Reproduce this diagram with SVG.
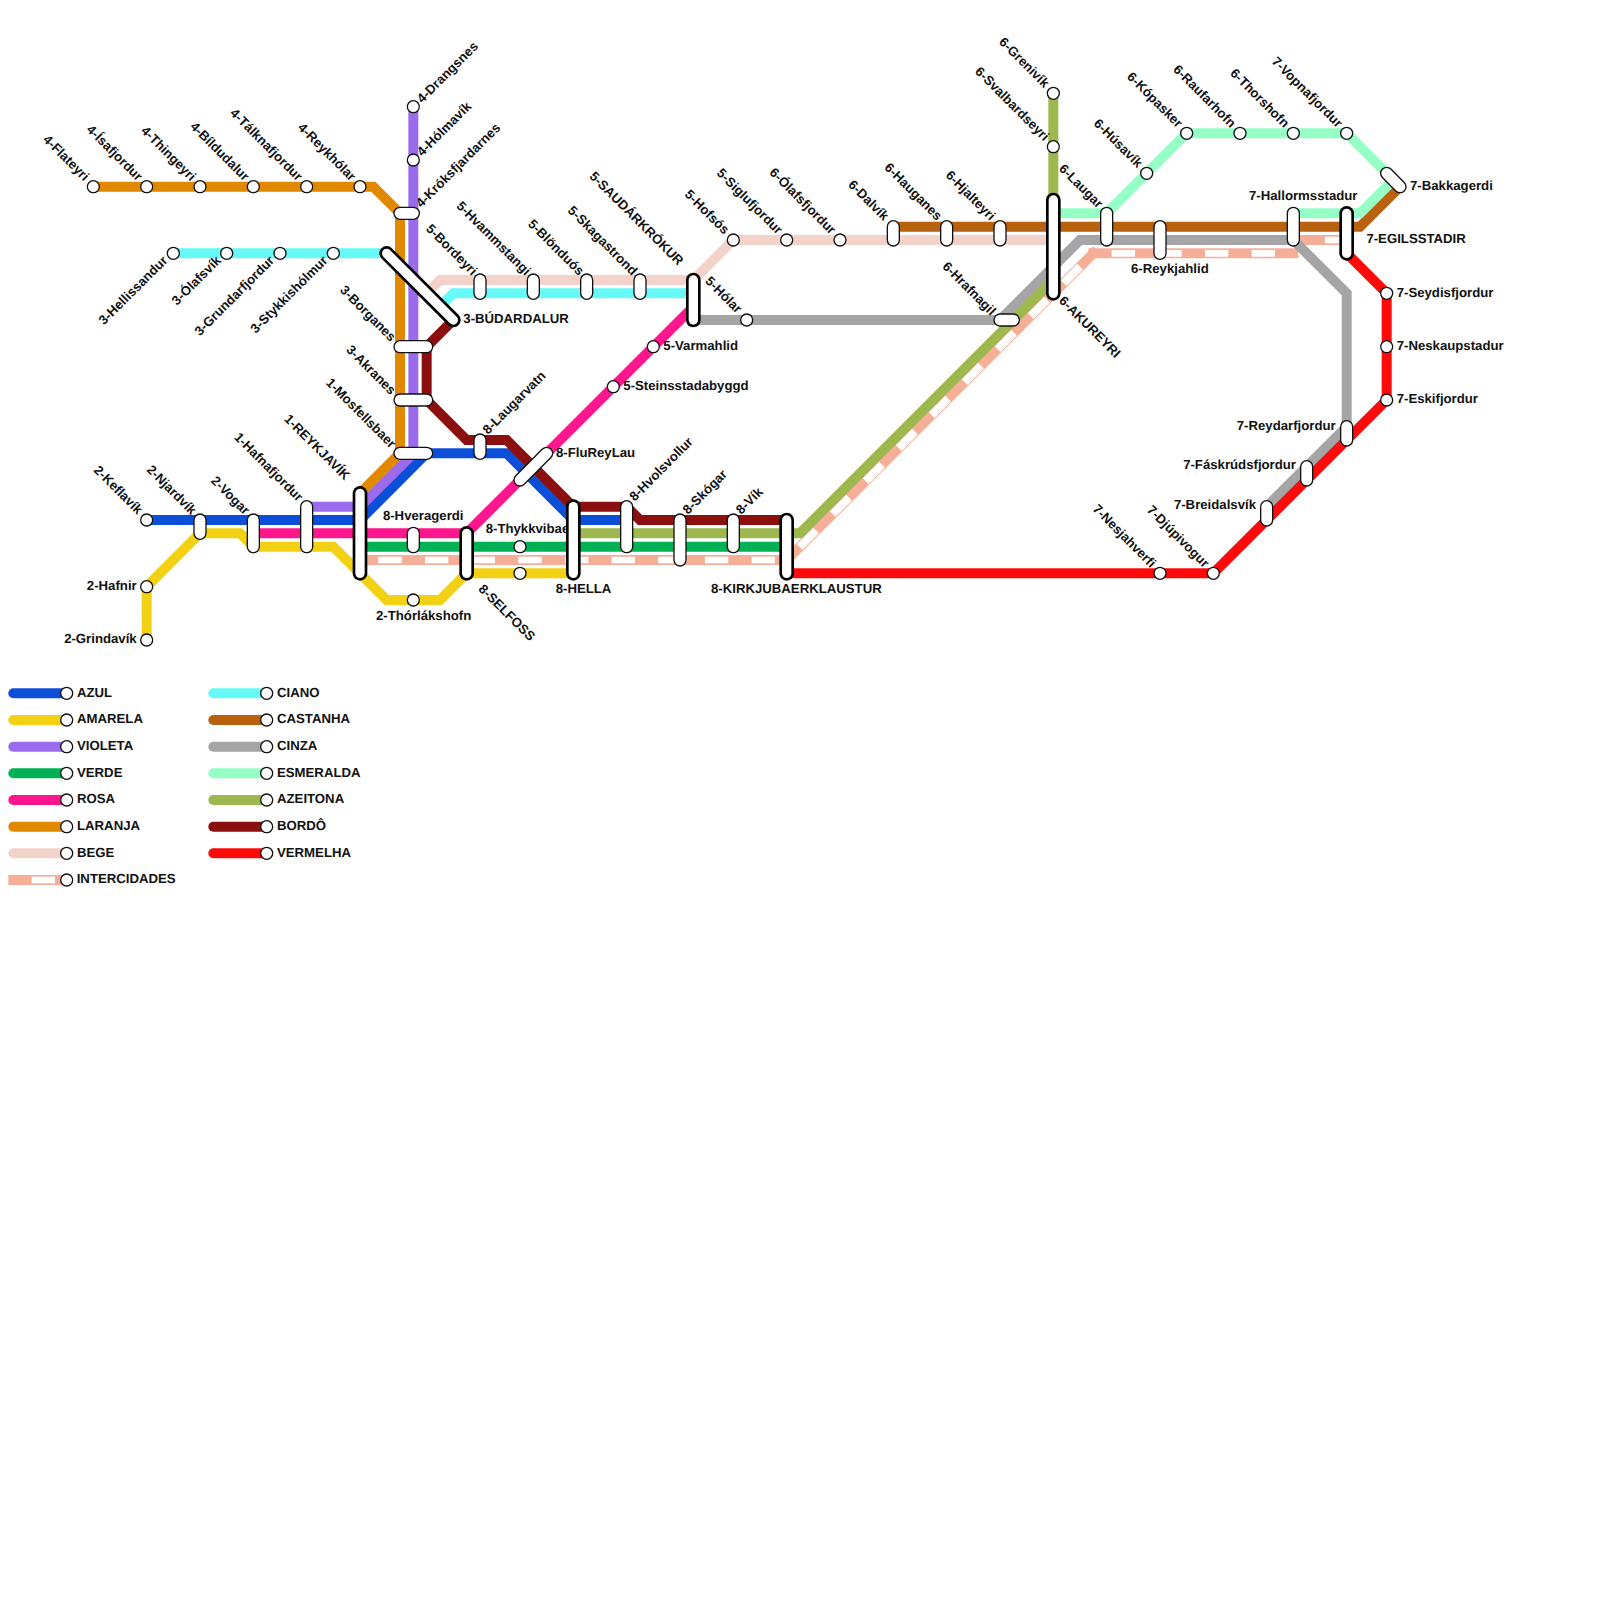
<svg xmlns="http://www.w3.org/2000/svg" width="1600" height="1600" viewBox="0 0 1600 1600">
<style>
text{font-family:"Liberation Sans",Arial,sans-serif;font-weight:700;font-size:13.2px;fill:#111;text-rendering:geometricPrecision}
.e{text-anchor:end}
.l{fill:none;stroke-width:10}
.po{stroke:#111;stroke-width:13.33;stroke-linecap:round}
.pi{stroke:#fff;stroke-width:10.67;stroke-linecap:round}
.to{stroke:#000;stroke-width:14.67;stroke-linecap:round}
.ti{stroke:#fff;stroke-width:9.33;stroke-linecap:round}
circle{fill:#fff;stroke:#111;stroke-width:1.33}
.ip{fill:none;stroke:#f5af98;stroke-width:10;stroke-linecap:square}
.iw{fill:none;stroke:#fff;stroke-width:6.67;stroke-dasharray:23.33 23.33;stroke-dashoffset:-18.33}
.lg{fill:none;stroke-width:10;stroke-linecap:round}
</style>
<rect width="1600" height="1600" fill="#fff"/>
<g id="connectors">
<path id="azul" class="l" stroke="#0b4fd9" d="M146.67 520H360L426.67 453.33H506.67L573.33 520H626.67"/>
<path id="amarela" class="l" stroke="#f2d013" d="M146.67 640V586.67L200 533.33H240L253.33 546.67H333.33L386.67 600H440L466.67 573.33H573.33"/>
<path id="violeta" class="l" stroke="#9b6bee" d="M413.33 106.67V453.33L360 506.67H306.67"/>
<path id="verde" class="l" stroke="#00b254" d="M360 546.67H786.67"/>
<path id="rosa" class="l" stroke="#fd168d" d="M253.33 533.33H466.67L693.33 306.67"/>
<path id="laranja" class="l" stroke="#e08800" d="M93.33 186.67H373.33L400 213.33V453.33L360 493.33"/>
<path id="bege" class="l" stroke="#f3d2ca" d="M426.67 293.33L440 280H693.33L733.33 240H1053.33"/>
<g id="intercidades">
<path class="ip" d="M360 560H786.67"/><path class="iw" d="M360 560H786.67"/>
<path class="ip" d="M786.67 560L1093.33 253.33"/><path class="iw" style="stroke-width:8" d="M786.67 560L1093.33 253.33"/>
<path class="ip" d="M1093.33 253.33H1293.33"/><path class="iw" d="M1093.33 253.33H1293.33"/>
<path class="ip" d="M1293.33 240H1346.67"/><path class="iw" d="M1306.67 240H1346.67"/>
</g>
<path id="ciano" class="l" stroke="#68f9f9" d="M173.33 253.33H386.67M440 306.67L453.33 293.33H693.33"/>
<path id="castanha" class="l" stroke="#b8620f" d="M893.33 226.67H1360L1400 186.67"/>
<path id="cinza" class="l" stroke="#a5a5a5" d="M693.33 320H1000L1080 240H1293.33L1346.67 293.33V426.67L1266.67 506.67"/>
<path id="esmeralda" class="l" stroke="#95ffc6" d="M1053.33 213.33H1106.67L1186.67 133.33H1346.67L1393.33 180M1293.33 213.33H1360L1393.33 180"/>
<path id="azeitona" class="l" stroke="#9db84e" d="M1053.33 93.33V280M573.33 533.33H800L1053.33 280"/>
<path id="bordo" class="l" stroke="#8b0f0f" d="M453.33 320L426.67 346.67V400L466.67 440H506.67L573.33 506.67H626.67L640 520H786.67"/>
<path id="vermelha" class="l" stroke="#ff0a0a" d="M786.67 573.33H1213.33L1386.67 400V293.33L1346.67 253.33"/>
</g>
<g id="n-thykkvibae"><text x="485.7" y="533">8-Thykkvibae</text><circle cx="520" cy="546.67" r="6"/></g>
<g id="n-flateyri"><circle cx="93.33" cy="186.67" r="6"/><text class="e" transform="translate(83.83 181.67) rotate(45)">4-Flateyri</text></g>
<g id="n-isafjordur"><circle cx="146.67" cy="186.67" r="6"/><text class="e" transform="translate(137.17 181.67) rotate(45)">4-Ísafjordur</text></g>
<g id="n-thingeyri"><circle cx="200" cy="186.67" r="6"/><text class="e" transform="translate(190.5 181.67) rotate(45)">4-Thingeyri</text></g>
<g id="n-bildudalur"><circle cx="253.33" cy="186.67" r="6"/><text class="e" transform="translate(243.83 181.67) rotate(45)">4-Bíldudalur</text></g>
<g id="n-talknafjordur"><circle cx="306.67" cy="186.67" r="6"/><text class="e" transform="translate(297.17 181.67) rotate(45)">4-Tálknafjordur</text></g>
<g id="n-reykholar"><circle cx="360" cy="186.67" r="6"/><text class="e" transform="translate(350.5 181.67) rotate(45)">4-Reykhólar</text></g>
<g id="n-drangsnes"><circle cx="413.33" cy="106.67" r="6"/><text transform="translate(422.33 103.67) rotate(-45)">4-Drangsnes</text></g>
<g id="n-holmavik"><circle cx="413.33" cy="160" r="6"/><text transform="translate(422.33 157) rotate(-45)">4-Hólmavík</text></g>
<g id="n-kroksfjardarnes"><line class="po" x1="400" y1="213.33" x2="413.33" y2="213.33"/><line class="pi" x1="400" y1="213.33" x2="413.33" y2="213.33"/><text transform="translate(421.33 208.33) rotate(-45)">4-Króksfjardarnes</text></g>
<g id="n-hellissandur"><circle cx="173.33" cy="253.33" r="6"/><text class="e" transform="translate(168.33 261.33) rotate(-45)">3-Hellissandur</text></g>
<g id="n-olafsvik"><circle cx="226.67" cy="253.33" r="6"/><text class="e" transform="translate(221.67 261.33) rotate(-45)">3-Ólafsvík</text></g>
<g id="n-grundarfjordur"><circle cx="280" cy="253.33" r="6"/><text class="e" transform="translate(275 261.33) rotate(-45)">3-Grundarfjordur</text></g>
<g id="n-stykkisholmur"><circle cx="333.33" cy="253.33" r="6"/><text class="e" transform="translate(328.33 261.33) rotate(-45)">3-Stykkishólmur</text></g>
<g id="n-budardalur"><line class="to" x1="386.67" y1="253.33" x2="453.33" y2="320"/><line class="ti" x1="386.67" y1="253.33" x2="453.33" y2="320"/><text x="463.3" y="323">3-BÚDARDALUR</text></g>
<g id="n-borganes"><line class="po" x1="400" y1="346.67" x2="426.67" y2="346.67"/><line class="pi" x1="400" y1="346.67" x2="426.67" y2="346.67"/><text class="e" transform="translate(390.5 342.17) rotate(45)">3-Borganes</text></g>
<g id="n-akranes"><line class="po" x1="400" y1="400" x2="426.67" y2="400"/><line class="pi" x1="400" y1="400" x2="426.67" y2="400"/><text class="e" transform="translate(390.5 395.5) rotate(45)">3-Akranes</text></g>
<g id="n-mosfellsbaer"><line class="po" x1="400" y1="453.33" x2="426.67" y2="453.33"/><line class="pi" x1="400" y1="453.33" x2="426.67" y2="453.33"/><text class="e" transform="translate(390.5 448.83) rotate(45)">1-Mosfellsbaer</text></g>
<g id="n-keflavik"><circle cx="146.67" cy="520" r="6"/><text class="e" transform="translate(137.17 515) rotate(45)">2-Keflavík</text></g>
<g id="n-njardvik"><line class="po" x1="200" y1="520" x2="200" y2="533.33"/><line class="pi" x1="200" y1="520" x2="200" y2="533.33"/><text class="e" transform="translate(191 515.5) rotate(45)">2-Njardvík</text></g>
<g id="n-vogar"><line class="po" x1="253.33" y1="520" x2="253.33" y2="546.67"/><line class="pi" x1="253.33" y1="520" x2="253.33" y2="546.67"/><text class="e" transform="translate(244.33 515.5) rotate(45)">2-Vogar</text></g>
<g id="n-hafnafjordur"><line class="po" x1="306.67" y1="506.67" x2="306.67" y2="546.67"/><line class="pi" x1="306.67" y1="506.67" x2="306.67" y2="546.67"/><text class="e" transform="translate(297.67 502.17) rotate(45)">1-Hafnafjordur</text></g>
<g id="n-reykjavik"><line class="to" x1="360" y1="493.33" x2="360" y2="573.33"/><line class="ti" x1="360" y1="493.33" x2="360" y2="573.33"/><text class="e" transform="translate(344.5 480.83) rotate(45)">1-REYKJAVÍK</text></g>
<g id="n-hafnir"><circle cx="146.67" cy="586.67" r="6"/><text class="e" x="136.7" y="589.7">2-Hafnir</text></g>
<g id="n-grindavik"><circle cx="146.67" cy="640" r="6"/><text class="e" x="136.7" y="643">2-Grindavík</text></g>
<g id="n-hveragerdi"><line class="po" x1="413.33" y1="533.33" x2="413.33" y2="546.67"/><line class="pi" x1="413.33" y1="533.33" x2="413.33" y2="546.67"/><text x="382.9" y="520">8-Hveragerdi</text></g>
<g id="n-thorlakshofn"><circle cx="413.33" cy="600" r="6"/><text x="376" y="620">2-Thórlákshofn</text></g>
<g id="n-selfoss"><line class="to" x1="466.67" y1="533.33" x2="466.67" y2="573.33"/><line class="ti" x1="466.67" y1="533.33" x2="466.67" y2="573.33"/><text transform="translate(477.8 589.8) rotate(45)">8-SELFOSS</text></g>
<g id="n-amarela-39"><circle cx="520" cy="573.33" r="6"/></g>
<g id="n-laugarvatn"><line class="po" x1="480" y1="440" x2="480" y2="453.33"/><line class="pi" x1="480" y1="440" x2="480" y2="453.33"/><text transform="translate(488 435) rotate(-45)">8-Laugarvatn</text></g>
<g id="n-flureylau"><line class="po" x1="520" y1="480" x2="546.67" y2="453.33"/><line class="pi" x1="520" y1="480" x2="546.67" y2="453.33"/><text x="556" y="457">8-FluReyLau</text></g>
<g id="n-hella"><line class="to" x1="573.33" y1="506.67" x2="573.33" y2="573.33"/><line class="ti" x1="573.33" y1="506.67" x2="573.33" y2="573.33"/><text x="555.7" y="593">8-HELLA</text></g>
<g id="n-hvolsvollur"><line class="po" x1="626.67" y1="506.67" x2="626.67" y2="546.67"/><line class="pi" x1="626.67" y1="506.67" x2="626.67" y2="546.67"/><text transform="translate(634.67 501.67) rotate(-45)">8-Hvolsvollur</text></g>
<g id="n-skogar"><line class="po" x1="680" y1="520" x2="680" y2="560"/><line class="pi" x1="680" y1="520" x2="680" y2="560"/><text transform="translate(688 515) rotate(-45)">8-Skógar</text></g>
<g id="n-vik"><line class="po" x1="733.33" y1="520" x2="733.33" y2="546.67"/><line class="pi" x1="733.33" y1="520" x2="733.33" y2="546.67"/><text transform="translate(741.33 515) rotate(-45)">8-Vík</text></g>
<g id="n-kirkjubaer"><line class="to" x1="786.67" y1="520" x2="786.67" y2="573.33"/><line class="ti" x1="786.67" y1="520" x2="786.67" y2="573.33"/><text x="711" y="593">8-KIRKJUBAERKLAUSTUR</text></g>
<g id="n-bordeyri"><line class="po" x1="480" y1="280" x2="480" y2="293.33"/><line class="pi" x1="480" y1="280" x2="480" y2="293.33"/><text class="e" transform="translate(471.9 276.1) rotate(45)">5-Bordeyri</text></g>
<g id="n-hvammstangi"><line class="po" x1="533.33" y1="280" x2="533.33" y2="293.33"/><line class="pi" x1="533.33" y1="280" x2="533.33" y2="293.33"/><text class="e" transform="translate(525.23 276.1) rotate(45)">5-Hvammstangi</text></g>
<g id="n-blonduos"><line class="po" x1="586.67" y1="280" x2="586.67" y2="293.33"/><line class="pi" x1="586.67" y1="280" x2="586.67" y2="293.33"/><text class="e" transform="translate(578.57 276.1) rotate(45)">5-Blönduós</text></g>
<g id="n-skagastrond"><line class="po" x1="640" y1="280" x2="640" y2="293.33"/><line class="pi" x1="640" y1="280" x2="640" y2="293.33"/><text class="e" transform="translate(631.9 276.1) rotate(45)">5-Skagastrond</text></g>
<g id="n-saudarkrokur"><line class="to" x1="693.33" y1="280" x2="693.33" y2="320"/><line class="ti" x1="693.33" y1="280" x2="693.33" y2="320"/><text class="e" transform="translate(677.9 266.1) rotate(45)">5-SAUDÁRKRÓKUR</text></g>
<g id="n-varmahlid"><circle cx="653.33" cy="346.67" r="6"/><text x="663.3" y="350">5-Varmahlid</text></g>
<g id="n-steinsstadabyggd"><circle cx="613.33" cy="386.67" r="6"/><text x="623.3" y="390">5-Steinsstadabyggd</text></g>
<g id="n-holar"><circle cx="746.67" cy="320" r="6"/><text class="e" transform="translate(736.67 314) rotate(45)">5-Hólar</text></g>
<g id="n-hofsos"><circle cx="733.33" cy="240" r="6"/><text class="e" transform="translate(723.83 235) rotate(45)">5-Hofsós</text></g>
<g id="n-siglufjordur"><circle cx="786.67" cy="240" r="6"/><text class="e" transform="translate(777.17 235) rotate(45)">5-Siglufjordur</text></g>
<g id="n-olafsfjordur"><circle cx="840" cy="240" r="6"/><text class="e" transform="translate(830.5 235) rotate(45)">6-Ólafsfjordur</text></g>
<g id="n-dalvik"><line class="po" x1="893.33" y1="226.67" x2="893.33" y2="240"/><line class="pi" x1="893.33" y1="226.67" x2="893.33" y2="240"/><text class="e" transform="translate(883.33 221.17) rotate(45)">6-Dalvík</text></g>
<g id="n-hauganes"><line class="po" x1="946.67" y1="226.67" x2="946.67" y2="240"/><line class="pi" x1="946.67" y1="226.67" x2="946.67" y2="240"/><text class="e" transform="translate(936.67 221.17) rotate(45)">6-Hauganes</text></g>
<g id="n-hjalteyri"><line class="po" x1="1000" y1="226.67" x2="1000" y2="240"/><line class="pi" x1="1000" y1="226.67" x2="1000" y2="240"/><text class="e" transform="translate(990 221.17) rotate(45)">6-Hjalteyri</text></g>
<g id="n-hrafnagil"><line class="po" x1="1000" y1="320" x2="1013.33" y2="320"/><line class="pi" x1="1000" y1="320" x2="1013.33" y2="320"/><text class="e" transform="translate(990.5 316) rotate(45)">6-Hrafnagil</text></g>
<g id="n-akureyri"><line class="to" x1="1053.33" y1="200" x2="1053.33" y2="293.33"/><line class="ti" x1="1053.33" y1="200" x2="1053.33" y2="293.33"/><text transform="translate(1058.2 301.6) rotate(45)">6-AKUREYRI</text></g>
<g id="n-grenivik"><circle cx="1053.33" cy="93.33" r="6"/><text class="e" transform="translate(1043.83 88.33) rotate(45)">6-Grenivík</text></g>
<g id="n-svalbardseyri"><circle cx="1053.33" cy="146.67" r="6"/><text class="e" transform="translate(1043.83 141.67) rotate(45)">6-Svalbardseyri</text></g>
<g id="n-laugar"><line class="po" x1="1106.67" y1="213.33" x2="1106.67" y2="240"/><line class="pi" x1="1106.67" y1="213.33" x2="1106.67" y2="240"/><text class="e" transform="translate(1097.67 208.83) rotate(45)">6-Laugar</text></g>
<g id="n-reykjahlid"><line class="po" x1="1160" y1="226.67" x2="1160" y2="253.33"/><line class="pi" x1="1160" y1="226.67" x2="1160" y2="253.33"/><text x="1131" y="272.5">6-Reykjahlid</text></g>
<g id="n-husavik"><circle cx="1146.67" cy="173.33" r="6"/><text class="e" transform="translate(1137.17 168.33) rotate(45)">6-Húsavík</text></g>
<g id="n-kopasker"><circle cx="1186.67" cy="133.33" r="6"/><text class="e" transform="translate(1177.17 128.33) rotate(45)">6-Kópasker</text></g>
<g id="n-raufarhofn"><circle cx="1240" cy="133.33" r="6"/><text class="e" transform="translate(1230.5 128.33) rotate(45)">6-Raufarhofn</text></g>
<g id="n-thorshofn"><circle cx="1293.33" cy="133.33" r="6"/><text class="e" transform="translate(1283.83 128.33) rotate(45)">6-Thorshofn</text></g>
<g id="n-vopnafjordur"><circle cx="1346.67" cy="133.33" r="6"/><text class="e" transform="translate(1337.17 128.33) rotate(45)">7-Vopnafjordur</text></g>
<g id="n-bakkagerdi"><line class="po" x1="1386.67" y1="173.33" x2="1400" y2="186.67"/><line class="pi" x1="1386.67" y1="173.33" x2="1400" y2="186.67"/><text x="1410" y="189.5">7-Bakkagerdi</text></g>
<g id="n-hallormsstadur"><line class="po" x1="1293.33" y1="213.33" x2="1293.33" y2="240"/><line class="pi" x1="1293.33" y1="213.33" x2="1293.33" y2="240"/><text x="1249" y="200">7-Hallormsstadur</text></g>
<g id="n-egilsstadir"><line class="to" x1="1346.67" y1="213.33" x2="1346.67" y2="253.33"/><line class="ti" x1="1346.67" y1="213.33" x2="1346.67" y2="253.33"/><text x="1366.4" y="242.5">7-EGILSSTADIR</text></g>
<g id="n-seydisfjordur"><circle cx="1386.67" cy="293.33" r="6"/><text x="1396.67" y="296.5">7-Seydisfjordur</text></g>
<g id="n-neskaupstadur"><circle cx="1386.67" cy="346.67" r="6"/><text x="1396.67" y="349.8">7-Neskaupstadur</text></g>
<g id="n-eskifjordur"><circle cx="1386.67" cy="400" r="6"/><text x="1396.67" y="403">7-Eskifjordur</text></g>
<g id="n-reydarfjordur"><line class="po" x1="1346.67" y1="426.67" x2="1346.67" y2="440"/><line class="pi" x1="1346.67" y1="426.67" x2="1346.67" y2="440"/><text class="e" x="1335.7" y="430">7-Reydarfjordur</text></g>
<g id="n-faskrudsfjordur"><line class="po" x1="1306.67" y1="466.67" x2="1306.67" y2="480"/><line class="pi" x1="1306.67" y1="466.67" x2="1306.67" y2="480"/><text class="e" x="1296" y="469.3">7-Fáskrúdsfjordur</text></g>
<g id="n-breidalsvik"><line class="po" x1="1266.67" y1="506.67" x2="1266.67" y2="520"/><line class="pi" x1="1266.67" y1="506.67" x2="1266.67" y2="520"/><text class="e" x="1256" y="509.3">7-Breidalsvík</text></g>
<g id="n-nesjahverfi"><circle cx="1160" cy="573.33" r="6"/><text class="e" transform="translate(1150.5 568.33) rotate(45)">7-Nesjahverfi</text></g>
<g id="n-djupivogur"><circle cx="1213.33" cy="573.33" r="6"/><text class="e" transform="translate(1203.83 568.33) rotate(45)">7-Djúpivogur</text></g>
<g id="legend">
<g id="lg-azul"><path class="lg" stroke="#0b4fd9" d="M13.33 693.33H66.67"/><circle cx="66.67" cy="693.33" r="6"/><text x="77" y="696.7">AZUL</text></g>
<g id="lg-amarela"><path class="lg" stroke="#f2d013" d="M13.33 720H66.67"/><circle cx="66.67" cy="720" r="6"/><text x="77" y="723.3">AMARELA</text></g>
<g id="lg-violeta"><path class="lg" stroke="#9b6bee" d="M13.33 746.67H66.67"/><circle cx="66.67" cy="746.67" r="6"/><text x="77" y="750">VIOLETA</text></g>
<g id="lg-verde"><path class="lg" stroke="#00b254" d="M13.33 773.33H66.67"/><circle cx="66.67" cy="773.33" r="6"/><text x="77" y="776.7">VERDE</text></g>
<g id="lg-rosa"><path class="lg" stroke="#fd168d" d="M13.33 800H66.67"/><circle cx="66.67" cy="800" r="6"/><text x="77" y="803.3">ROSA</text></g>
<g id="lg-laranja"><path class="lg" stroke="#e08800" d="M13.33 826.67H66.67"/><circle cx="66.67" cy="826.67" r="6"/><text x="77" y="830">LARANJA</text></g>
<g id="lg-bege"><path class="lg" stroke="#f3d2ca" d="M13.33 853.33H66.67"/><circle cx="66.67" cy="853.33" r="6"/><text x="77" y="856.7">BEGE</text></g>
<g id="lg-intercidades"><path d="M8.33 880H66.67" fill="none" stroke="#f5af98" stroke-width="10"/><path d="M31.67 880H55" fill="none" stroke="#fff" stroke-width="6.67"/><circle cx="66.67" cy="880" r="6"/><text x="76.7" y="883.3">INTERCIDADES</text></g>
<g id="lg-ciano"><path class="lg" stroke="#68f9f9" d="M213.33 693.33H266.67"/><circle cx="266.67" cy="693.33" r="6"/><text x="277" y="696.7">CIANO</text></g>
<g id="lg-castanha"><path class="lg" stroke="#b8620f" d="M213.33 720H266.67"/><circle cx="266.67" cy="720" r="6"/><text x="277" y="723.3">CASTANHA</text></g>
<g id="lg-cinza"><path class="lg" stroke="#a5a5a5" d="M213.33 746.67H266.67"/><circle cx="266.67" cy="746.67" r="6"/><text x="277" y="750">CINZA</text></g>
<g id="lg-esmeralda"><path class="lg" stroke="#95ffc6" d="M213.33 773.33H266.67"/><circle cx="266.67" cy="773.33" r="6"/><text x="277" y="776.7">ESMERALDA</text></g>
<g id="lg-azeitona"><path class="lg" stroke="#9db84e" d="M213.33 800H266.67"/><circle cx="266.67" cy="800" r="6"/><text x="277" y="803.3">AZEITONA</text></g>
<g id="lg-bordo"><path class="lg" stroke="#8b0f0f" d="M213.33 826.67H266.67"/><circle cx="266.67" cy="826.67" r="6"/><text x="277" y="830">BORDÔ</text></g>
<g id="lg-vermelha"><path class="lg" stroke="#ff0a0a" d="M213.33 853.33H266.67"/><circle cx="266.67" cy="853.33" r="6"/><text x="277" y="856.7">VERMELHA</text></g>
</g>
</svg>
